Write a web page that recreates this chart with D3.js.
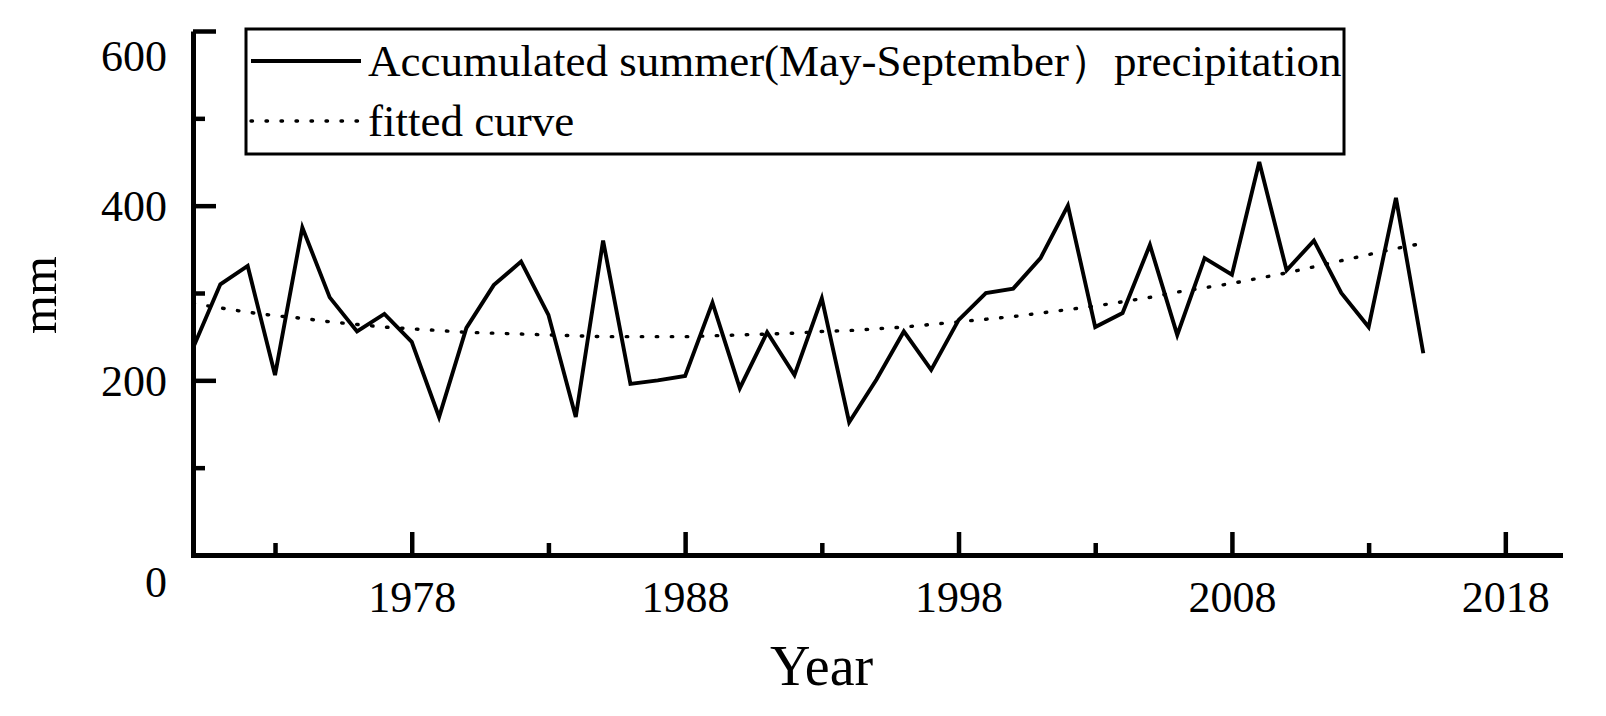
<!DOCTYPE html>
<html>
<head>
<meta charset="utf-8">
<script src="https://cdn.jsdelivr.net/npm/d3@7"></script>
<style>
  body { margin: 0; background: #fff; }
  svg { display: block; }
  text { font-family: "Liberation Serif", "Times New Roman", serif; fill: #000; }
</style>
</head>
<body>
<div id="chart"></div>
<script>
// summer precipitation (mm), 1970-2015
const years = d3.range(1970, 2016);
const precipitation = [
  237, 310, 331, 206, 375, 295, 256, 276, 244, 158,
  260, 309, 336, 275, 158, 360, 196, 200, 205, 289,
  191, 255, 206, 294, 152, 201, 256, 212, 269, 300,
  305, 340, 400, 261, 277, 355, 252, 340, 321, 450,
  326, 360, 300, 261, 409, 231
];
const fitted = [
  288, 283, 278, 274, 271, 267, 264, 261, 259, 257,
  255, 254, 253, 252, 251, 250, 250, 250, 250, 251,
  252, 253, 254, 256, 257, 259, 261, 264, 267, 270,
  273, 277, 281, 285, 290, 295, 301, 306, 311, 317,
  323, 330, 337, 344, 351, 357
];
const xMajorTicks = [1978, 1988, 1998, 2008, 2018];
const xMinorTicks = [1973, 1983, 1993, 2003, 2013];
const yMajorTicks = [0, 200, 400, 600];
const yMinorTicks = [100, 300, 500];
const legendLabels = ["Accumulated summer(May-September\uFF09precipitation", "fitted curve"];

const width = 1606, height = 716;
const margin = { top: 31, right: 46, bottom: 161, left: 193 };

const x = d3.scaleLinear([1970, 2020], [margin.left, width - margin.right]);
const y = d3.scaleLinear([0, 600], [height - margin.bottom, margin.top]);

const svg = d3.select("#chart").append("svg")
  .attr("width", width)
  .attr("height", height)
  .attr("viewBox", [0, 0, width, height]);

// ---- lines ----
const line = (vals) => d3.line()
  .x((d, i) => x(years[i]))
  .y(d => y(d))(vals);

svg.append("path")
  .attr("d", line(fitted))
  .attr("fill", "none")
  .attr("stroke", "#000")
  .attr("stroke-width", 3.4)
  .attr("stroke-linecap", "round")
  .attr("stroke-dasharray", "1.5 13.5");

svg.append("path")
  .attr("d", line(precipitation))
  .attr("fill", "none")
  .attr("stroke", "#000")
  .attr("stroke-width", 3.9)
  .attr("stroke-linejoin", "miter");

// ---- axes ----
const axisStyle = g => {
  g.selectAll("path.domain").attr("stroke-width", 5);
  g.selectAll(".tick line").attr("stroke-width", 4.5);
};

const gx = svg.append("g").attr("transform", `translate(0,${y(0)})`);
gx.call(d3.axisBottom(x).tickValues(xMajorTicks).tickSize(-23).tickSizeOuter(0).tickFormat(d3.format("d")))
  .call(axisStyle)
  .call(g => g.selectAll("text").attr("y", 57).attr("dy", null).attr("font-size", 44));
svg.append("g").attr("transform", `translate(0,${y(0)})`)
  .call(d3.axisBottom(x).tickValues(xMinorTicks).tickSize(-12).tickSizeOuter(0).tickFormat(""))
  .call(axisStyle)
  .call(g => g.select("path.domain").remove());

const gy = svg.append("g").attr("transform", `translate(${x(1970)},0)`);
gy.call(d3.axisLeft(y).tickValues(yMajorTicks).tickSize(-23).tickSizeOuter(0).tickPadding(26))
  .call(axisStyle)
  .call(g => g.selectAll("text").attr("font-size", 44)
    .attr("dy", d => d === 600 ? "0.9em" : d === 0 ? "0.95em" : "0.34em"));
svg.append("g").attr("transform", `translate(${x(1970)},0)`)
  .call(d3.axisLeft(y).tickValues(yMinorTicks).tickSize(-12).tickSizeOuter(0).tickFormat(""))
  .call(axisStyle)
  .call(g => g.select("path.domain").remove());

gx.select("path.domain").attr("stroke-linecap", "square");

// ---- axis titles ----
svg.append("text")
  .attr("x", 770)
  .attr("y", 685)
  .attr("font-size", 56)
  .text("Year");

svg.append("text")
  .attr("transform", `translate(56,${(y(0) + y(600)) / 2 + 2}) rotate(-90)`)
  .attr("text-anchor", "middle")
  .attr("font-size", 50)
  .text("mm");

// ---- legend ----
const legend = svg.append("g");
legend.append("rect")
  .attr("x", 246).attr("y", 29)
  .attr("width", 1098).attr("height", 125)
  .attr("fill", "#fff")
  .attr("stroke", "#000")
  .attr("stroke-width", 3);

const legendRows = legend.selectAll("g.row")
  .data(legendLabels)
  .join("g")
  .attr("class", "row")
  .attr("transform", (d, i) => `translate(0,${61 + i * 60})`);

legendRows.append("line")
  .attr("x1", 251).attr("x2", 361)
  .attr("stroke", "#000")
  .attr("stroke-width", (d, i) => i === 0 ? 3.9 : 3.4)
  .attr("stroke-linecap", (d, i) => i === 0 ? "butt" : "round")
  .attr("stroke-dasharray", (d, i) => i === 0 ? null : "1.5 13.5");

legendRows.append("text")
  .attr("x", 368)
  .attr("y", 15)
  .attr("font-size", 45)
  .text(d => d);
</script>
</body>
</html>
